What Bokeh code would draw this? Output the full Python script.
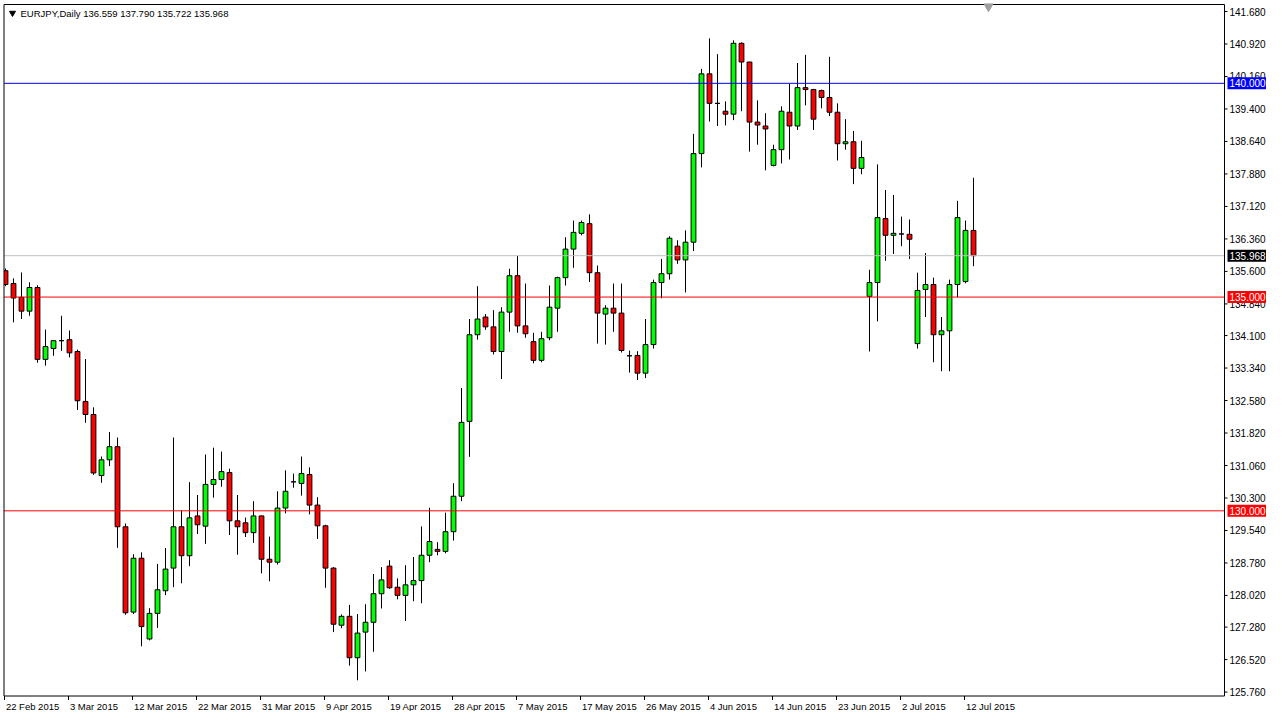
from bokeh.plotting import figure
from bokeh.models import Range1d, ColumnDataSource
from bokeh.core.properties import value
from bokeh.embed import file_html
from bokeh.resources import INLINE

# ---- data (EURJPY daily, 22 Feb 2015 .. 13 Jul 2015, Sun-Fri bars) ----
open_ = [135.616, 135.316, 134.994, 134.671, 135.224, 133.543, 133.796, 133.980, 134.003, 133.727,
         132.559, 132.253, 130.825, 131.193, 131.500, 129.627, 127.631, 128.891, 127.002, 127.601,
         128.130, 128.660, 129.627, 128.950, 129.881, 129.641, 130.618, 130.733, 130.894, 129.766,
         129.720, 129.489, 129.881, 128.867, 128.798, 130.065, 130.678, 130.641, 130.848, 130.134,
         129.650, 128.660, 127.324, 127.532, 126.564, 127.163, 127.393, 128.061, 128.706, 128.213,
         128.022, 128.269, 128.368, 128.960, 129.098, 129.052, 129.512, 130.341, 132.092, 134.119,
         134.533, 134.303, 133.727, 134.648, 135.500, 134.326, 133.957, 133.520, 134.049, 134.740,
         135.454, 136.122, 136.491, 136.717, 135.570, 134.602, 134.740, 134.625, 133.626, 133.635,
         133.220, 133.888, 135.339, 135.546, 136.191, 135.869, 136.284, 138.356, 140.222, 139.531,
         139.347, 139.278, 140.936, 140.498, 139.093, 139.001, 138.080, 138.448, 139.324, 139.001,
         139.899, 139.853, 139.830, 139.669, 139.324, 138.587, 138.633, 138.011, 135.017, 135.339,
         136.836, 136.445, 136.475, 136.468, 133.911, 135.178, 135.293, 134.119, 134.211, 135.293,
         135.362, 136.559]
high = [135.669, 135.438, 135.576, 135.346, 135.277, 134.241, 133.987, 134.563, 134.218, 133.773,
        133.550, 132.421, 131.270, 131.845, 131.714, 129.704, 128.983, 129.029, 127.723, 128.759,
        129.128, 131.714, 130.010, 130.671, 130.371, 131.316, 131.477, 131.385, 130.986, 130.371,
        129.842, 130.226, 129.888, 129.397, 130.457, 130.947, 130.871, 131.270, 131.016, 130.319,
        129.674, 128.683, 127.578, 127.799, 127.585, 127.815, 128.522, 128.683, 128.845, 128.421,
        128.729, 128.920, 129.634, 130.072, 129.266, 129.957, 130.648, 132.875, 134.487, 135.254,
        134.602, 134.694, 134.763, 135.662, 135.961, 135.316, 134.165, 134.188, 135.270, 135.477,
        136.399, 136.790, 136.790, 136.935, 135.738, 134.810, 135.316, 135.316, 133.750, 133.734,
        134.487, 135.408, 135.892, 136.422, 136.329, 136.560, 138.817, 140.337, 141.051, 140.682,
        139.577, 141.005, 140.959, 140.500, 139.600, 139.301, 138.564, 139.462, 139.992, 140.475,
        140.666, 139.870, 139.853, 140.620, 139.531, 139.162, 138.886, 138.656, 135.639, 138.103,
        137.504, 137.389, 136.882, 136.813, 135.570, 136.030, 135.454, 134.533, 135.408, 137.251,
        136.790, 137.790]
low = [135.254, 134.409, 134.487, 134.563, 133.464, 133.395, 133.626, 133.741, 133.589, 132.359,
       132.060, 130.839, 130.655, 131.046, 129.135, 127.569, 127.585, 126.831, 126.970, 127.262,
       128.029, 128.213, 128.305, 128.706, 129.457, 129.227, 130.309, 130.563, 129.434, 128.973,
       129.388, 129.250, 128.536, 128.352, 128.743, 129.941, 130.540, 130.355, 129.918, 129.342,
       128.200, 127.163, 127.255, 126.380, 126.035, 126.242, 126.703, 127.716, 128.177, 127.930,
       127.423, 127.884, 127.838, 128.798, 128.960, 129.006, 129.305, 130.226, 131.263, 134.004,
       134.234, 133.658, 133.082, 134.188, 134.165, 134.049, 133.451, 133.474, 133.990, 134.188,
       135.270, 135.685, 136.445, 135.353, 133.911, 133.888, 134.188, 133.704, 133.234, 133.059,
       133.105, 133.796, 134.971, 135.408, 135.777, 135.109, 136.076, 138.034, 139.107, 139.001,
       139.015, 139.139, 139.347, 138.402, 138.564, 137.965, 138.057, 138.126, 138.218, 138.909,
       139.485, 138.909, 139.416, 139.232, 138.195, 138.448, 137.642, 137.873, 133.727, 134.432,
       135.846, 136.007, 136.191, 135.892, 133.796, 134.533, 133.474, 133.266, 133.266, 134.994,
       135.323, 135.722]
close = [135.293, 134.978, 134.671, 135.224, 133.543, 133.842, 133.980, 133.980, 133.695, 132.575,
         132.253, 130.885, 131.193, 131.500, 129.627, 127.615, 128.891, 127.292, 127.601, 128.153,
         128.637, 129.627, 128.950, 129.835, 129.674, 130.618, 130.733, 130.917, 129.766, 129.627,
         129.489, 129.881, 128.867, 128.798, 130.065, 130.457, 130.678, 130.871, 130.134, 129.650,
         128.660, 127.347, 127.532, 126.564, 127.140, 127.393, 128.061, 128.384, 128.200, 128.022,
         128.269, 128.368, 128.960, 129.282, 129.052, 129.512, 130.341, 132.069, 134.119, 134.487,
         134.303, 133.727, 134.648, 135.500, 134.326, 134.142, 133.520, 134.026, 134.763, 135.454,
         136.122, 136.514, 136.744, 135.570, 134.625, 134.740, 134.625, 133.750, 133.626, 133.220,
         133.888, 135.339, 135.546, 136.376, 135.869, 136.284, 138.356, 140.222, 139.531, 139.531,
         139.278, 140.936, 140.498, 139.093, 139.024, 138.932, 138.448, 139.347, 139.001, 139.899,
         139.853, 139.162, 139.669, 139.324, 138.587, 138.633, 138.011, 138.264, 135.339, 136.859,
         136.445, 136.491, 136.475, 136.353, 135.155, 135.293, 134.119, 134.211, 135.293, 136.859,
         136.560, 135.968]

date_ticks = [0, 8, 16, 24, 32, 40, 48, 56, 64, 72, 80, 88, 96, 104, 112, 120]
date_labels = ["22 Feb 2015", "3 Mar 2015", "12 Mar 2015", "22 Mar 2015", "31 Mar 2015",
               "9 Apr 2015", "19 Apr 2015", "28 Apr 2015", "7 May 2015", "17 May 2015",
               "26 May 2015", "4 Jun 2015", "14 Jun 2015", "23 Jun 2015", "2 Jul 2015", "12 Jul 2015"]
price_ticks = [125.76, 126.52, 127.28, 128.02, 128.78, 129.54, 130.30, 131.06, 131.82, 132.58,
               133.34, 134.10, 134.84, 135.60, 136.36, 137.12, 137.88, 138.64, 139.40, 140.16,
               140.92, 141.68]
blue_levels = [140.0]
red_levels = [135.0, 130.0]
bid = 135.968
header = "EURJPY,Daily  136.559 137.790 135.722 135.968"

# ---- layout constants (pixels) ----
W, H = 1266, 711
PX_BAR = 8.0       # pixels per bar
BAR0_PX = 5.0      # pixel x of first bar
PX_YEN = 42.75     # pixels per 1.0 of price
REF_PX, REF_P = 11.0, 141.68   # top tick position
AXIS_PX = 1224.0   # right price axis line
FRAME_L_PX = 3.5
FRAME_T_PX = 4.0
FRAME_B_PX = 695.5

def xi(px):
    return (px - BAR0_PX) / PX_BAR

def yp(py):
    return REF_P - (py - REF_PX) / PX_YEN

FONT = "Liberation Sans"
FS = value("10px")
FS_SMALL = value("9.5px")
BULL = "#00FF00"
BEAR = "#FF0000"

n = len(open_)
src = ColumnDataSource(dict(
    x=list(range(n)), high=high, low=low,
    top=[max(o, c) for o, c in zip(open_, close)],
    bottom=[min(o, c) for o, c in zip(open_, close)],
    color=[BULL if c >= o else BEAR for o, c in zip(open_, close)],
))

p = figure(width=W, height=H,
           x_range=Range1d(xi(0), xi(W)), y_range=Range1d(yp(H), yp(0)),
           x_axis_location=None, y_axis_location=None,
           output_backend="svg", toolbar_location=None,
           min_border=0, min_border_left=0, min_border_right=0,
           min_border_top=0, min_border_bottom=0,
           background_fill_color="white", border_fill_color="white",
           outline_line_color=None)
p.grid.visible = False

x_left, x_axis = xi(FRAME_L_PX), xi(AXIS_PX)
y_top, y_bot = yp(FRAME_T_PX), yp(FRAME_B_PX)

# candles
p.segment(x0="x", x1="x", y0="low", y1="high", source=src, line_color="black", line_width=1)
p.vbar(x="x", width=0.6, top="top", bottom="bottom", source=src,
       fill_color="color", line_color="black", line_width=1)

# horizontal level lines (stop at the price axis)
p.segment(x0=[x_left], x1=[x_axis], y0=[bid], y1=[bid], line_color="#C0C0C0", line_width=1)
p.segment(x0=[x_left] * len(blue_levels), x1=[x_axis] * len(blue_levels),
          y0=blue_levels, y1=blue_levels, line_color="#0000FF", line_width=1)
p.segment(x0=[x_left] * len(red_levels), x1=[x_axis] * len(red_levels),
          y0=red_levels, y1=red_levels, line_color="#FF0000", line_width=1)

# white mask left of the frame, then frame lines
p.quad(left=[xi(0)], right=[x_left], bottom=[yp(H)], top=[yp(0)],
       fill_color="white", line_color=None)
p.segment(x0=[x_left, x_left, x_left, x_axis], x1=[x_left, x_axis, x_axis, x_axis],
          y0=[y_bot, y_top, y_bot, y_bot], y1=[y_top, y_top, y_bot, y_top],
          line_color="black", line_width=1)

# price axis ticks + labels
p.segment(x0=[x_axis] * len(price_ticks), x1=[xi(AXIS_PX + 3)] * len(price_ticks),
          y0=price_ticks, y1=price_ticks, line_color="black", line_width=1)
p.text(x=[xi(AXIS_PX + 5)] * len(price_ticks), y=price_ticks,
       text=["%.3f" % t for t in price_ticks], text_font=value(FONT), text_font_size=FS,
       text_baseline="middle", text_align="left", text_color="black")

# price tags
tag_prices = blue_levels + [bid] + red_levels
tag_colors = ["#0000FF"] * len(blue_levels) + ["#000000"] + ["#FF0000"] * len(red_levels)
half = 6.0 / PX_YEN
p.quad(left=[xi(AXIS_PX + 3)] * len(tag_prices), right=[xi(W)] * len(tag_prices),
       bottom=[t - half for t in tag_prices], top=[t + half for t in tag_prices],
       fill_color=tag_colors, line_color=None)
p.text(x=[xi(AXIS_PX + 5)] * len(tag_prices), y=tag_prices,
       text=["%.3f" % t for t in tag_prices], text_font=value(FONT), text_font_size=FS,
       text_baseline="middle", text_align="left", text_color="white")

# date axis ticks + labels (left aligned at tick like MT4)
p.segment(x0=[t - 0.125 for t in date_ticks], x1=[t - 0.125 for t in date_ticks],
          y0=[y_bot] * len(date_ticks), y1=[yp(FRAME_B_PX + 4)] * len(date_ticks),
          line_color="black", line_width=1)
p.text(x=[t + 0.05 for t in date_ticks], y=[yp(FRAME_B_PX + 10)] * len(date_ticks),
       text=date_labels, text_font=value(FONT), text_font_size=FS_SMALL,
       text_baseline="middle", text_align="left", text_color="black")

# header
p.scatter(x=[xi(12)], y=[yp(12.5)], marker="inverted_triangle", size=6,
          fill_color="black", line_color="black")
p.text(x=[xi(20)], y=[yp(12.5)], text=[header], text_font=value(FONT), text_font_size=FS_SMALL,
       text_baseline="middle", text_align="left", text_color="black")
# chart shift marker
p.scatter(x=[xi(988)], y=[yp(6)], marker="inverted_triangle", size=9,
          fill_color="#A0A0A0", line_color="#A0A0A0")

open("out.html", "w").write(file_html(p, INLINE))
